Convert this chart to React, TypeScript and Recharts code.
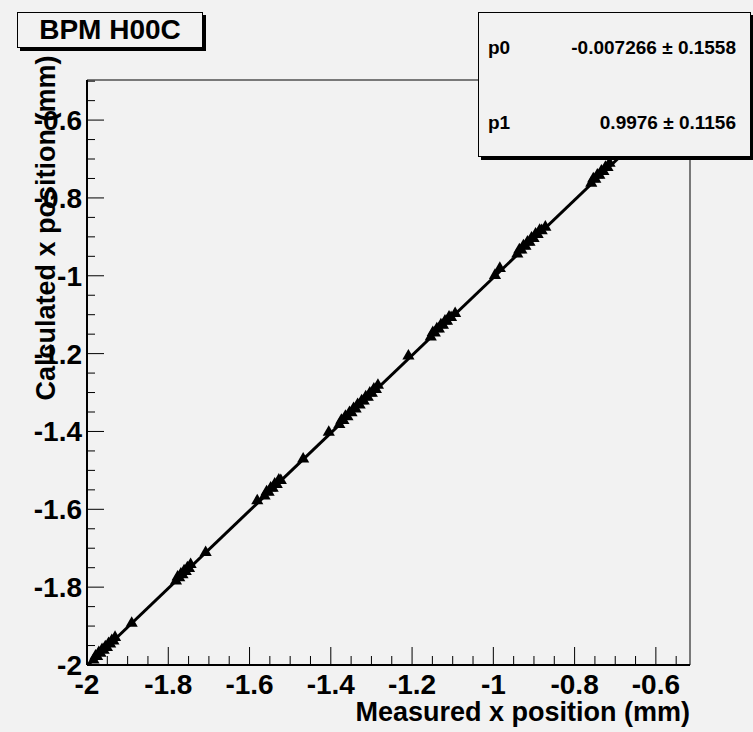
import React from 'react';
import {
	ComposedChart,
	Scatter,
	XAxis,
	YAxis,
	ZAxis,
	ReferenceLine,
} from 'recharts';

const FONT = '"Liberation Sans", Arial, Helvetica, sans-serif';

const measuredX = [
	-1.984, -1.979, -1.975, -1.971, -1.967, -1.963, -1.959, -1.955, -1.951, -1.947, -1.943, -1.939, -1.935, -1.931,
	-1.89,
	-1.781, -1.777, -1.773, -1.769, -1.765, -1.761, -1.757, -1.753, -1.749, -1.745,
	-1.708,
	-1.581,
	-1.563, -1.558, -1.553, -1.548, -1.543, -1.538, -1.533, -1.528, -1.523,
	-1.468,
	-1.405,
	-1.379, -1.374, -1.369, -1.364, -1.359, -1.354, -1.349, -1.344, -1.339, -1.334,
	-1.329, -1.324, -1.319, -1.314, -1.309, -1.304, -1.299, -1.294, -1.289, -1.284,
	-1.209,
	-1.154, -1.149, -1.144, -1.139, -1.134, -1.129, -1.124, -1.119, -1.114, -1.109, -1.104,
	-1.094,
	-0.996, -0.984,
	-0.941, -0.936, -0.931, -0.926, -0.921, -0.916, -0.911, -0.906, -0.901, -0.896, -0.891, -0.886, -0.881,
	-0.872,
	-0.759, -0.754, -0.749, -0.744, -0.739, -0.734, -0.729, -0.724, -0.719, -0.714,
];

const calculatedX = [
	-1.987, -1.977, -1.978, -1.968, -1.97, -1.96, -1.962, -1.953, -1.955, -1.945, -1.946, -1.937, -1.938, -1.929,
	-1.893,
	-1.784, -1.774, -1.776, -1.766, -1.768, -1.758, -1.76, -1.75, -1.752, -1.742,
	-1.711,
	-1.578,
	-1.566, -1.555, -1.556, -1.545, -1.546, -1.535, -1.536, -1.525, -1.526,
	-1.471,
	-1.402,
	-1.382, -1.371, -1.372, -1.361, -1.362, -1.351, -1.352, -1.341, -1.342, -1.331,
	-1.332, -1.321, -1.322, -1.311, -1.312, -1.301, -1.302, -1.291, -1.292, -1.281,
	-1.206,
	-1.157, -1.146, -1.147, -1.136, -1.137, -1.126, -1.127, -1.116, -1.117, -1.106, -1.107,
	-1.097,
	-0.999, -0.981,
	-0.944, -0.933, -0.934, -0.923, -0.924, -0.913, -0.914, -0.903, -0.904, -0.893, -0.894, -0.883, -0.884,
	-0.875,
	-0.762, -0.751, -0.752, -0.741, -0.742, -0.731, -0.732, -0.721, -0.722, -0.711,
];

// fit result pol1
const p0 = -0.007266;
const p0Err = 0.1558;
const p1 = 0.9976;
const p1Err = 0.1156;

const xDomain = [-2, -0.516];
const yDomain = [-2, -0.497];

const xTicks = [
	-2, -1.95, -1.9, -1.85, -1.8, -1.75, -1.7, -1.65, -1.6, -1.55, -1.5, -1.45, -1.4, -1.35, -1.3,
	-1.25, -1.2, -1.15, -1.1, -1.05, -1, -0.95, -0.9, -0.85, -0.8, -0.75, -0.7, -0.65, -0.6, -0.55,
];
const yTicks = [
	-2, -1.95, -1.9, -1.85, -1.8, -1.75, -1.7, -1.65, -1.6, -1.55, -1.5, -1.45, -1.4, -1.35, -1.3,
	-1.25, -1.2, -1.15, -1.1, -1.05, -1, -0.95, -0.9, -0.85, -0.8, -0.75, -0.7, -0.65, -0.6, -0.55, -0.5,
];

const points = measuredX.map((x, i) => ({ x, y: calculatedX[i] }));
const fitLine = xDomain.map((x) => ({ x, y: p0 + p1 * x }));

const isMajor = (v: number) => Math.abs(v * 5 - Math.round(v * 5)) < 1e-6;
const fmt = (v: number) => String(Math.round(v * 10) / 10);

const XTick = (props: any) => {
	const { x, y, payload } = props;
	const v = payload.value;
	const major = isMajor(v);
	return (
		<g>
			<line x1={x} y1={y} x2={x} y2={y - (major ? 18 : 9)} stroke='#000' strokeWidth={1} />
			{major && (
				<text x={x} y={y + 29} textAnchor='middle' fontFamily={FONT} fontWeight='bold' fontSize={28} fill='#000'>
					{fmt(v)}
				</text>
			)}
		</g>
	);
};

const YTick = (props: any) => {
	const { x, y, payload } = props;
	const v = payload.value;
	const major = isMajor(v);
	return (
		<g>
			<line x1={x} y1={y} x2={x + (major ? 17 : 8)} y2={y} stroke='#000' strokeWidth={1} />
			{major && (
				<text x={x - 5} y={y + 10} textAnchor='end' fontFamily={FONT} fontWeight='bold' fontSize={28} fill='#000'>
					{fmt(v)}
				</text>
			)}
		</g>
	);
};

export default function App() {
	return (
		<div
			style={{
				position: 'absolute',
				left: 0,
				top: 0,
				width: 753,
				height: 732,
				background: '#f2f2f2',
				fontFamily: FONT,
				overflow: 'hidden',
			}}
		>
			<ComposedChart width={753} height={732} margin={{ top: 80, right: 63, bottom: 0, left: 0 }}>
				<XAxis
					type='number'
					dataKey='x'
					domain={xDomain}
					ticks={xTicks}
					interval={0}
					allowDataOverflow
					height={67}
					tickSize={0}
					tickMargin={0}
					tickLine={false}
					axisLine={{ stroke: '#000', strokeWidth: 2 }}
					tick={<XTick />}
				/>
				<YAxis
					type='number'
					dataKey='y'
					domain={yDomain}
					ticks={yTicks}
					interval={0}
					allowDataOverflow
					width={87}
					tickSize={0}
					tickMargin={0}
					tickLine={false}
					axisLine={{ stroke: '#000', strokeWidth: 2 }}
					tick={<YTick />}
				/>
				<ZAxis range={[11, 11]} />
				<ReferenceLine y={yDomain[1]} stroke='#000' strokeWidth={1} />
				<ReferenceLine x={xDomain[1]} stroke='#000' strokeWidth={1} />
				<Scatter
					data={fitLine}
					line={{ stroke: '#000', strokeWidth: 3 }}
					shape={() => <g />}
					isAnimationActive={false}
				/>
				<Scatter data={points} fill='#000' shape='triangle' isAnimationActive={false} />
				<text
					x={55}
					y={228}
					transform='rotate(-90, 55, 228)'
					textAnchor='middle'
					fontFamily={FONT}
					fontWeight='bold'
					fontSize={27}
					fill='#000'
				>
					Calculated x position (mm)
				</text>
				<text x={690} y={721} textAnchor='end' fontFamily={FONT} fontWeight='bold' fontSize={27} fill='#000'>
					Measured x position (mm)
				</text>
			</ComposedChart>

			{/* title box */}
			<div
				style={{
					position: 'absolute',
					left: 17,
					top: 12,
					width: 186,
					height: 36,
					boxSizing: 'border-box',
					border: '1px solid #000',
					boxShadow: '3px 3px 0 #000',
					background: '#f2f2f2',
					display: 'flex',
					alignItems: 'center',
					justifyContent: 'center',
					fontWeight: 'bold',
					fontSize: 28,
				}}
			>
				BPM H00C
			</div>

			{/* fit stats box */}
			<div
				style={{
					position: 'absolute',
					left: 478,
					top: 12,
					width: 273,
					height: 145,
					boxSizing: 'border-box',
					border: '1px solid #000',
					boxShadow: '3px 3px 0 #000',
					background: '#f2f2f2',
					fontWeight: 'bold',
					fontSize: 19,
				}}
			>
				<div style={{ position: 'absolute', left: 9, top: 24, right: 14, display: 'flex', justifyContent: 'space-between' }}>
					<span>p0</span>
					<span>
						{p0} ± {p0Err}
					</span>
				</div>
				<div style={{ position: 'absolute', left: 9, top: 99, right: 14, display: 'flex', justifyContent: 'space-between' }}>
					<span>p1</span>
					<span>
						{p1} ± {p1Err}
					</span>
				</div>
			</div>
		</div>
	);
}
